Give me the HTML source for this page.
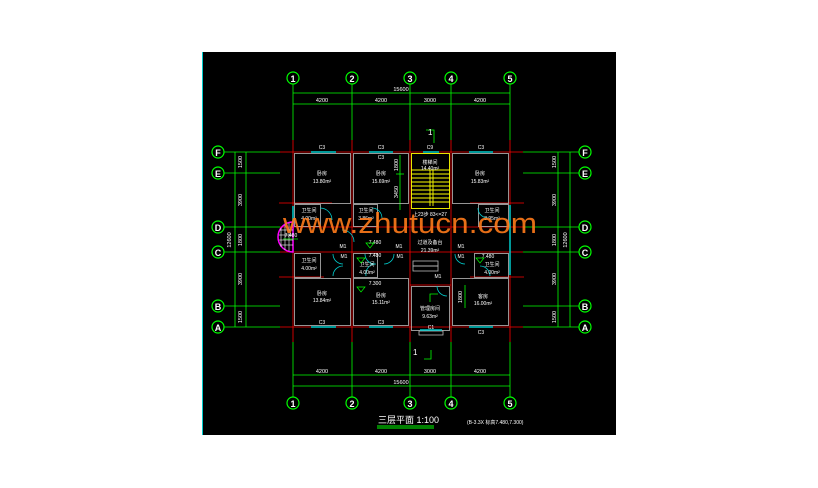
<!DOCTYPE html>
<html><head><meta charset="utf-8"><style>
html,body{margin:0;padding:0;background:#fff;width:818px;height:488px;overflow:hidden}
svg{display:block}
text{font-family:"Liberation Sans","Noto Sans CJK SC",sans-serif}
</style></head><body>
<svg width="818" height="488" viewBox="0 0 818 488" xmlns="http://www.w3.org/2000/svg">
<rect x="0" y="0" width="818" height="488" fill="#fff"/>
<rect x="202" y="52" width="414" height="383" fill="#000"/>
<line x1="202.5" y1="52" x2="202.5" y2="435" stroke="#0cc" stroke-width="1"/>

<!-- green dimension/axis lines -->
<g stroke="#0f0" stroke-width="0.8" fill="none">
 <!-- vertical axis extensions top -->
 <line x1="293" y1="84" x2="293" y2="140"/><line x1="352" y1="84" x2="352" y2="140"/>
 <line x1="410" y1="84" x2="410" y2="140"/><line x1="451" y1="84" x2="451" y2="140"/>
 <line x1="510" y1="84" x2="510" y2="140"/>
 <line x1="293" y1="93" x2="510" y2="93"/><line x1="293" y1="104" x2="510" y2="104"/>
 <!-- bottom -->
 <line x1="293" y1="342" x2="293" y2="397"/><line x1="352" y1="342" x2="352" y2="397"/>
 <line x1="410" y1="342" x2="410" y2="397"/><line x1="451" y1="342" x2="451" y2="397"/>
 <line x1="510" y1="342" x2="510" y2="397"/>
 <line x1="293" y1="375" x2="510" y2="375"/><line x1="293" y1="386" x2="510" y2="386"/>
 <!-- horizontal row extensions left/right -->
 <line x1="224" y1="152" x2="280" y2="152"/><line x1="224" y1="173" x2="280" y2="173"/>
 <line x1="224" y1="227" x2="280" y2="227"/><line x1="224" y1="252" x2="280" y2="252"/>
 <line x1="224" y1="306" x2="280" y2="306"/><line x1="224" y1="327" x2="280" y2="327"/>
 <line x1="523" y1="152" x2="579" y2="152"/><line x1="523" y1="173" x2="579" y2="173"/>
 <line x1="523" y1="227" x2="579" y2="227"/><line x1="523" y1="252" x2="579" y2="252"/>
 <line x1="523" y1="306" x2="579" y2="306"/><line x1="523" y1="327" x2="579" y2="327"/>
 <line x1="235" y1="152" x2="235" y2="327"/><line x1="246" y1="152" x2="246" y2="327"/>
 <line x1="558" y1="152" x2="558" y2="327"/><line x1="570" y1="152" x2="570" y2="327"/>
 <line x1="400" y1="155" x2="400" y2="210"/><line x1="396" y1="174" x2="404" y2="174"/>
 <line x1="465" y1="285" x2="465" y2="308"/>
 <polyline points="426,130 434,130 434,143"/><polyline points="431,350 431,359 424,359"/>
 <polyline points="430,302 430,294 438,294"/>
</g>
<!-- bubbles -->
<g stroke="#0f0" stroke-width="1.2" fill="#000">
 <circle cx="293" cy="78" r="6"/><circle cx="352" cy="78" r="6"/><circle cx="410" cy="78" r="6"/><circle cx="451" cy="78" r="6"/><circle cx="510" cy="78" r="6"/>
 <circle cx="293" cy="403" r="6"/><circle cx="352" cy="403" r="6"/><circle cx="410" cy="403" r="6"/><circle cx="451" cy="403" r="6"/><circle cx="510" cy="403" r="6"/>
 <circle cx="218" cy="152" r="6"/><circle cx="218" cy="173" r="6"/><circle cx="218" cy="227" r="6"/><circle cx="218" cy="252" r="6"/><circle cx="218" cy="306" r="6"/><circle cx="218" cy="327" r="6"/>
 <circle cx="585" cy="152" r="6"/><circle cx="585" cy="173" r="6"/><circle cx="585" cy="227" r="6"/><circle cx="585" cy="252" r="6"/><circle cx="585" cy="306" r="6"/><circle cx="585" cy="327" r="6"/>
</g>
<g fill="#fff" font-size="9" font-weight="bold" text-anchor="middle">
 <text x="293" y="82">1</text><text x="352" y="82">2</text><text x="410" y="82">3</text><text x="451" y="82">4</text><text x="510" y="82">5</text>
 <text x="293" y="407">1</text><text x="352" y="407">2</text><text x="410" y="407">3</text><text x="451" y="407">4</text><text x="510" y="407">5</text>
 <text x="218" y="156">F</text><text x="218" y="177">E</text><text x="218" y="231">D</text><text x="218" y="256">C</text><text x="218" y="310">B</text><text x="218" y="331">A</text>
 <text x="585" y="156">F</text><text x="585" y="177">E</text><text x="585" y="231">D</text><text x="585" y="256">C</text><text x="585" y="310">B</text><text x="585" y="331">A</text>
</g>
<g fill="#fff" font-size="5.5" text-anchor="middle">
 <text x="401" y="91">15600</text><text x="322" y="102">4200</text><text x="381" y="102">4200</text><text x="430" y="102">3000</text><text x="480" y="102">4200</text>
 <text x="322" y="373">4200</text><text x="381" y="373">4200</text><text x="430" y="373">3000</text><text x="480" y="373">4200</text><text x="401" y="384">15600</text>
</g>
<g fill="#fff" font-size="5.5" text-anchor="middle">
 <text transform="translate(242,162) rotate(-90)">1500</text><text transform="translate(242,200) rotate(-90)">3900</text>
 <text transform="translate(242,240) rotate(-90)">1800</text><text transform="translate(231,240) rotate(-90)">12600</text>
 <text transform="translate(242,279) rotate(-90)">3900</text><text transform="translate(242,317) rotate(-90)">1500</text>
 <text transform="translate(556,162) rotate(-90)">1500</text><text transform="translate(556,200) rotate(-90)">3900</text>
 <text transform="translate(556,240) rotate(-90)">1800</text><text transform="translate(567,240) rotate(-90)">12600</text>
 <text transform="translate(556,279) rotate(-90)">3900</text><text transform="translate(556,317) rotate(-90)">1500</text>
 <text transform="translate(398,165) rotate(-90)">1800</text><text transform="translate(398,192) rotate(-90)">3450</text>
 <text transform="translate(462,297) rotate(-90)">1800</text>
</g>
<g fill="#fff" font-size="8"><text x="428" y="135">1</text><text x="413" y="355">1</text></g>

<!-- red axis lines -->
<g stroke="#f00" stroke-width="0.8">
 <line x1="293" y1="140" x2="293" y2="342"/><line x1="352" y1="140" x2="352" y2="342"/>
 <line x1="410" y1="140" x2="410" y2="342"/><line x1="451" y1="140" x2="451" y2="342"/>
 <line x1="510" y1="140" x2="510" y2="342"/>
 <line x1="280" y1="152" x2="523" y2="152"/><line x1="280" y1="227" x2="523" y2="227"/>
 <line x1="280" y1="252" x2="523" y2="252"/><line x1="280" y1="327" x2="523" y2="327"/>
 <line x1="279" y1="203" x2="332" y2="203"/><line x1="470" y1="203" x2="524" y2="203"/>
 <line x1="279" y1="277" x2="324" y2="277"/><line x1="470" y1="277" x2="524" y2="277"/>
 <line x1="410" y1="285" x2="451" y2="285"/>
</g>
<!-- gray walls -->
<g stroke="#bbb" stroke-width="0.8" fill="none">
 <rect x="294.5" y="153.5" width="56" height="50"/><rect x="353.5" y="153.5" width="55" height="50"/>
 <rect x="452.5" y="153.5" width="56" height="50"/>
 <rect x="294.5" y="278.5" width="56" height="47"/><rect x="353.5" y="278.5" width="55" height="47"/>
 <rect x="452.5" y="278.5" width="56" height="47"/><rect x="411.5" y="286.5" width="38" height="44"/>
 <rect x="294.5" y="253.5" width="26" height="24"/><rect x="353.5" y="253.5" width="24" height="24"/>
 <rect x="474.5" y="253.5" width="34" height="24"/>
 <rect x="294.5" y="204.5" width="26" height="22"/><rect x="353.5" y="204.5" width="24" height="22"/>
 <rect x="478.5" y="204.5" width="30" height="22"/>
 <rect x="413" y="261" width="25" height="5"/><rect x="413" y="266" width="25" height="5"/>
 <rect x="419" y="331" width="24" height="4"/>
</g>
<!-- cyan windows/doors -->
<g stroke="#0cc" stroke-width="1.5" fill="none">
 <line x1="311" y1="152" x2="336" y2="152"/><line x1="369" y1="152" x2="393" y2="152"/>
 <line x1="423" y1="152" x2="439" y2="152"/><line x1="469" y1="152" x2="493" y2="152"/>
 <line x1="311" y1="327" x2="336" y2="327"/><line x1="369" y1="327" x2="393" y2="327"/>
 <line x1="420" y1="330" x2="442" y2="330"/><line x1="469" y1="327" x2="493" y2="327"/>
 <line x1="510" y1="205" x2="510" y2="275"/><line x1="293" y1="206" x2="293" y2="226"/>
</g>
<g stroke="#0cc" stroke-width="0.8" fill="none">
 <path d="M320 208 A12 12 0 0 1 332 220"/><path d="M342 230 A12 12 0 0 1 354 242"/>
 <path d="M372 208 A10 10 0 0 1 382 218"/><path d="M478 208 A10 10 0 0 0 488 218"/>
 <path d="M333 254 A10 10 0 0 0 343 264"/><path d="M343 266 A10 10 0 0 0 333 276"/>
 <path d="M365 254 A10 10 0 0 0 375 264"/><path d="M376 264 A10 10 0 0 0 366 276"/>
 <path d="M394 254 A10 10 0 0 1 384 264"/><path d="M455 254 A10 10 0 0 0 465 264"/>
 <path d="M480 266 A10 10 0 0 1 490 276"/><path d="M437 286 A10 10 0 0 0 447 296"/>
</g>
<!-- stair -->
<g stroke="#ff0" stroke-width="0.9" fill="none">
 <rect x="411.5" y="153.5" width="38" height="55"/>
 <line x1="411" y1="170" x2="450" y2="170"/>
 <line x1="411" y1="174" x2="450" y2="174"/><line x1="411" y1="178" x2="450" y2="178"/>
 <line x1="411" y1="182" x2="450" y2="182"/><line x1="411" y1="186" x2="450" y2="186"/>
 <line x1="411" y1="190" x2="450" y2="190"/><line x1="411" y1="194" x2="450" y2="194"/>
 <line x1="411" y1="198" x2="450" y2="198"/><line x1="411" y1="202" x2="450" y2="202"/>
 <line x1="430" y1="170" x2="430" y2="206"/><line x1="433" y1="170" x2="433" y2="206"/>
</g>
<!-- magenta hatched circle -->
<g>
 <path d="M293 222 A14 14 0 0 0 293 252 Z" fill="none" stroke="#f0f" stroke-width="1.5"/>
 <g stroke="#fff" stroke-width="0.6">
  <line x1="281" y1="228" x2="281" y2="247"/><line x1="285" y1="225" x2="285" y2="250"/><line x1="289" y1="223" x2="289" y2="251"/>
  <line x1="280" y1="230" x2="293" y2="230"/><line x1="279" y1="235" x2="293" y2="235"/><line x1="279" y1="240" x2="293" y2="240"/><line x1="280" y1="245" x2="293" y2="245"/>
 </g>
</g>
<!-- room labels -->
<g fill="#fff" font-size="5" text-anchor="middle">
 <text x="322" y="175">卧房</text><text x="322" y="183">13.80m²</text>
 <text x="381" y="175">卧房</text><text x="381" y="183">15.69m²</text>
 <text x="430" y="164">楼梯间</text><text x="430" y="170">14.40m²</text>
 <text x="480" y="175">卧房</text><text x="480" y="183">15.83m²</text>
 <text x="309" y="212">卫生间</text><text x="309" y="220">4.00m²</text>
 <text x="366" y="212">卫生间</text><text x="366" y="220">3.86m²</text>
 <text x="492" y="212">卫生间</text><text x="492" y="220">3.95m²</text>
 <text x="430" y="216">上23步 83&lt;=27</text>
 <text x="430" y="244">过道及备台</text><text x="430" y="252">21.39m²</text>
 <text x="309" y="262">卫生间</text><text x="309" y="270">4.00m²</text>
 <text x="367" y="266">卫生间</text><text x="367" y="274">4.00m²</text>
 <text x="492" y="266">卫生间</text><text x="492" y="274">4.00m²</text>
 <text x="322" y="295">卧房</text><text x="322" y="302">13.84m²</text>
 <text x="381" y="297">卧房</text><text x="381" y="304">15.11m²</text>
 <text x="430" y="310">管理房间</text><text x="430" y="318">9.63m²</text>
 <text x="483" y="298">客房</text><text x="483" y="305">16.00m²</text>
 <text x="322" y="149">C3</text><text x="381" y="149">C3</text><text x="430" y="149">C9</text><text x="481" y="149">C3</text>
 <text x="381" y="159">C3</text><text x="322" y="324">C3</text><text x="381" y="324">C3</text><text x="431" y="329">C1</text><text x="481" y="334">C3</text>
 <text x="343" y="248">M1</text><text x="399" y="248">M1</text><text x="461" y="248">M1</text>
 <text x="344" y="258">M1</text><text x="400" y="258">M1</text><text x="461" y="258">M1</text><text x="438" y="278">M1</text>
 <text x="291" y="237">7.480</text><text x="375" y="244">7.480</text><text x="375" y="257">7.480</text><text x="375" y="285">7.300</text><text x="488" y="258">7.480</text>
</g>
<g stroke="#0f0" stroke-width="0.7" fill="none">
 <path d="M366 243 l4 5 l4 -5 z"/><path d="M357 258 l4 5 l4 -5 z"/><path d="M357 287 l4 5 l4 -5 z"/><path d="M476 258 l4 5 l4 -5 z"/>
 <line x1="283" y1="239" x2="298" y2="239"/>
</g>
<!-- watermark -->
<text x="283" y="233" font-size="29" fill="#ff7a1a" fill-opacity="0.9" textLength="254" lengthAdjust="spacingAndGlyphs">www.zhutucn.com</text>
<!-- title -->
<text x="378" y="423" font-size="9" fill="#fff">三层平面 1:100</text>
<line x1="377" y1="426" x2="434" y2="426" stroke="#0f0" stroke-width="1"/>
<line x1="377" y1="428" x2="434" y2="428" stroke="#0f0" stroke-width="1"/>
<text x="467" y="424" font-size="5" fill="#fff">(B-3.3X 标高7.480,7.300)</text>
</svg>
</body></html>
